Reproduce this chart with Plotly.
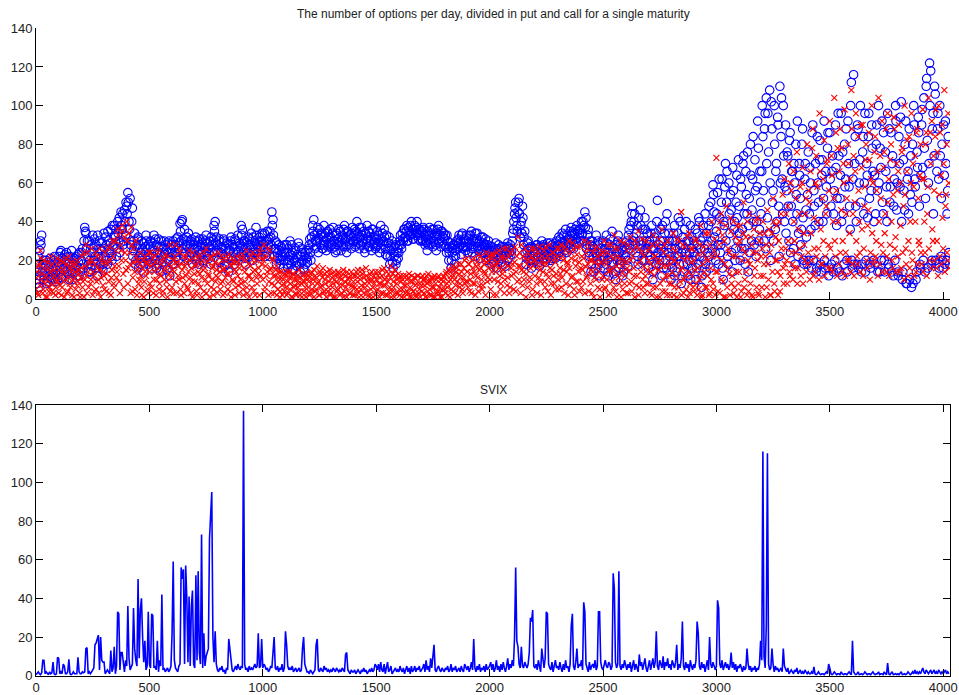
import plotly.graph_objects as go

# ---------------- data ----------------
# Main samples lie on days 0,5,10,...; the "mid" samples on days 2,7,12,...
STEP = 5
MID_OFFSET = 2

calls_a = [  # days 0-995
    15,8,22,12,30,33,18,10,14,20,9,16,12,18,11,15,20,13,17,10,
    22,14,25,18,12,20,16,24,13,19,22,15,10,18,21,14,17,23,12,16,
    20,26,16,37,34,22,18,30,14,24,33,20,16,28,12,22,30,18,25,15,
    34,22,28,18,30,24,36,20,28,38,32,22,40,30,24,45,36,28,46,33,
    48,55,40,52,30,47,25,34,20,28,32,22,18,30,26,14,24,33,20,28,
    22,30,16,26,33,20,28,18,31,24,14,27,22,30,17,25,29,20,12,26,
    24,30,18,28,22,32,26,39,30,41,22,36,28,32,20,26,30,24,18,28,
    26,32,22,30,18,28,24,31,20,27,33,22,26,30,18,28,24,38,40,32,
    28,20,31,24,16,26,30,22,18,28,14,25,32,20,27,18,30,24,33,22,
    28,38,36,24,30,18,26,32,22,28,34,20,26,30,37,24,28,32,22,30,
]
calls_b = [  # days 1000-1995
    33,26,30,24,35,28,22,32,45,41,26,30,18,24,28,20,22,26,16,24,
    20,28,16,22,30,18,24,15,20,26,17,22,27,14,19,24,16,22,18,25,
    22,28,24,32,38,41,26,30,34,24,36,28,33,26,38,30,25,35,28,36,
    32,26,37,30,24,34,28,36,30,25,33,27,38,31,24,35,29,33,26,37,
    30,36,28,40,34,26,32,37,29,35,24,31,38,27,34,30,25,36,29,33,
    27,35,30,24,38,31,28,36,26,33,22,29,18,25,30,16,22,28,20,26,
    24,30,28,34,30,36,32,38,30,35,33,40,36,31,38,34,40,36,33,30,
    35,30,36,28,33,25,31,37,29,34,27,36,31,25,33,38,30,27,35,32,
    28,33,24,30,20,27,16,24,28,18,22,30,26,33,28,23,34,27,31,25,
    30,24,33,28,35,26,31,22,29,34,25,30,21,27,32,24,28,20,26,30,
]
calls_c = [  # days 2000-2995
    22,27,18,25,20,26,16,23,28,21,19,25,22,27,17,24,29,21,26,23,
    30,36,44,50,38,45,52,32,40,48,28,35,18,25,30,20,27,16,24,22,
    26,20,28,22,17,25,30,21,27,19,24,29,22,26,20,28,23,27,21,30,
    25,32,28,22,34,27,30,36,24,31,28,35,37,30,26,34,29,38,32,36,
    30,40,34,38,45,42,28,36,22,30,18,27,14,24,33,20,28,12,26,22,
    30,16,24,33,20,12,28,22,35,18,26,10,24,30,16,28,20,25,14,27,
    22,30,17,36,26,40,48,32,44,24,38,18,30,46,28,36,20,42,26,34,
    16,30,22,38,10,26,34,18,51,28,20,36,12,30,24,40,16,28,34,22,
    10,30,20,38,26,14,34,22,40,8,28,18,36,24,30,12,20,38,26,16,
    30,22,10,34,18,40,26,6,32,20,44,14,28,38,22,50,30,59,45,24,
]
calls_d = [  # days 3000-4025
    35,55,18,42,28,62,10,38,70,50,22,60,34,46,14,56,40,26,64,30,
    48,20,58,36,74,26,66,44,14,52,80,30,62,40,72,22,58,78,36,50,
    66,84,30,96,104,42,76,108,20,88,56,100,36,70,94,48,110,84,62,100,
    40,90,56,74,30,86,48,66,26,60,80,44,22,70,52,36,88,20,62,46,
    18,76,44,60,16,90,56,38,14,84,50,72,18,64,40,92,16,58,78,12,
    86,48,66,14,56,90,38,16,74,52,96,12,44,80,62,20,92,58,36,112,
    16,116,70,48,18,88,60,100,14,76,44,96,20,64,84,52,16,90,66,40,
    18,80,56,100,14,68,92,44,20,76,58,96,16,50,86,70,12,62,100,46,
    14,84,58,102,10,72,46,92,8,66,88,54,6,80,100,62,10,76,94,48,
    16,90,68,104,14,110,82,60,122,118,20,96,74,106,18,88,62,100,22,80,
    16,64,92,20,56,24,
]

calls_mid_a = [  # days 2-997
    10,18,6,25,28,14,20,12,17,8,19,14,21,10,16,13,22,9,15,19,
    17,24,11,21,15,23,19,14,22,10,17,25,13,20,16,22,12,19,24,14,
    24,18,30,35,26,30,14,20,28,17,26,31,22,19,33,16,26,21,29,18,
    26,32,20,35,25,29,22,38,27,33,36,26,34,42,29,38,44,30,40,50,
    44,50,36,28,40,22,30,18,27,31,16,26,24,21,29,19,27,30,22,18,
    27,19,29,22,25,31,16,24,27,20,30,19,26,23,28,15,24,30,22,28,
    18,27,24,31,26,20,29,35,40,26,31,24,30,27,34,22,28,31,26,22,
    30,20,27,25,31,23,29,19,26,30,24,29,21,27,32,24,30,35,29,25,
    24,30,19,27,23,31,17,26,29,21,25,30,22,28,24,31,20,27,25,29,
    22,33,27,30,21,29,24,28,31,23,27,32,24,29,33,27,22,30,26,34,
]
calls_mid_b = [  # days 1002-1997
    28,34,22,30,26,31,35,28,38,33,22,26,29,21,25,18,27,22,20,28,
    24,18,26,20,23,28,15,21,25,19,23,29,18,22,26,20,15,24,21,19,
    26,31,20,29,35,33,30,27,37,31,29,34,26,32,28,34,31,27,32,29,
    28,34,30,27,33,25,31,29,35,28,31,36,30,27,35,32,28,31,34,30,
    33,27,35,31,29,37,28,33,31,26,34,29,32,35,27,31,36,28,32,26,
    31,28,33,29,26,34,30,32,23,29,26,32,22,27,19,24,27,18,24,21,
    28,33,26,31,36,32,35,30,37,33,38,34,31,36,33,37,34,31,36,34,
    31,37,33,30,29,35,28,33,31,36,30,33,28,34,36,29,33,35,29,34,
    31,27,33,26,24,29,20,26,22,28,25,29,31,27,30,33,26,29,27,33,
    27,31,29,33,24,30,27,34,31,27,29,26,32,24,29,27,31,25,28,24,
]
calls_mid_c = [  # days 2002-2997
    25,21,27,19,24,29,21,26,20,24,27,18,25,23,26,20,27,24,28,25,
    34,40,47,42,35,50,44,38,34,42,32,24,21,29,26,23,20,27,19,25,
    23,28,24,19,27,22,25,28,23,26,21,27,25,29,24,21,27,25,29,24,
    28,24,31,27,29,33,25,28,33,29,31,26,34,33,28,36,31,35,29,34,
    36,33,40,30,37,26,33,24,28,14,30,22,26,16,22,30,18,24,20,29,
    22,26,18,29,14,24,31,19,27,13,22,28,20,33,24,18,26,12,23,29,
    26,20,33,28,38,44,30,40,28,34,22,42,26,38,20,30,25,36,30,24,
    28,20,34,26,14,32,22,40,24,18,30,26,38,16,34,20,44,24,30,18,
    26,16,34,12,30,22,42,18,28,24,32,14,26,40,18,30,24,10,32,20,
    24,36,16,28,42,22,30,12,38,26,18,34,24,48,16,40,26,54,32,20,
]
calls_mid_d = [  # days 3002-4027
    44,28,62,24,50,16,40,58,30,66,18,44,54,24,68,36,20,50,42,72,
    34,62,26,70,44,18,54,76,38,24,64,46,84,28,56,40,92,30,66,44,
    100,56,88,26,70,96,34,60,102,50,30,80,66,40,90,22,60,104,44,74,
    58,34,76,48,82,24,66,40,70,18,54,92,34,64,28,80,42,18,70,32,
    54,20,68,36,86,20,48,70,16,60,40,82,14,72,52,20,66,44,86,16,
    62,18,74,44,20,68,52,96,14,64,40,76,18,58,88,14,70,48,100,20,
    62,18,84,40,90,16,72,50,18,84,60,14,70,42,96,18,56,78,20,64,
    44,90,14,60,78,20,50,86,14,66,40,18,88,58,14,74,48,20,92,60,
    12,70,94,40,14,56,80,8,62,44,10,74,50,8,90,58,14,68,86,18,
    64,98,20,78,52,114,16,70,100,18,88,44,110,20,66,96,16,74,52,20,
    90,18,70,44,84,18,
]

puts_a = [  # days 0-995
    5,14,2,18,25,10,3,20,8,12,1,16,6,22,4,11,15,2,9,18,
    3,12,20,6,15,1,10,18,4,22,8,14,2,17,11,5,20,9,13,1,
    16,6,24,10,28,3,14,20,8,26,2,12,18,5,22,10,15,1,19,7,
    12,24,4,18,9,27,2,15,22,6,30,11,36,17,3,25,38,13,32,20,
    40,8,34,18,37,4,26,14,30,2,20,10,24,6,16,1,22,12,18,3,
    14,24,6,18,10,22,2,16,26,8,12,20,4,15,23,9,1,18,28,11,
    6,20,14,28,3,17,10,24,2,15,22,8,12,19,5,25,11,16,1,21,
    9,18,2,14,23,6,11,20,4,16,26,8,13,1,22,10,17,5,19,12,
    3,24,14,8,20,2,16,11,22,5,13,18,1,21,9,15,6,19,12,3,
    18,8,23,2,14,20,6,12,1,17,10,24,4,15,20,8,13,2,26,18,
]
puts_b = [  # days 1000-1995
    10,28,6,22,14,2,25,16,8,20,3,12,17,5,11,1,14,7,10,4,
    12,2,9,14,5,11,1,13,7,3,10,6,15,2,8,12,4,9,1,13,
    6,11,3,14,8,1,12,5,17,9,2,13,7,16,4,10,1,12,6,15,
    3,11,8,14,1,9,5,13,2,10,7,15,4,12,1,8,11,3,14,6,
    9,2,12,5,15,1,10,7,13,3,8,16,4,11,1,9,14,6,12,2,
    10,5,14,1,8,12,3,16,7,11,2,13,6,17,4,9,1,12,8,3,
    11,2,9,5,12,1,7,10,3,13,6,1,9,4,11,2,8,12,5,1,
    7,12,3,10,1,8,13,5,9,2,11,6,1,10,4,12,3,8,1,9,
    11,3,14,6,9,1,12,15,4,10,7,16,2,13,8,18,5,11,20,9,
    14,6,18,10,3,16,21,8,12,19,4,15,22,10,7,18,13,24,9,16,
]
puts_c = [  # days 2000-2995
    20,5,14,23,10,17,2,19,25,12,8,21,15,3,18,26,11,22,6,16,
    25,13,19,4,22,32,10,17,28,7,14,21,1,18,24,9,16,26,5,20,
    12,23,3,17,27,9,20,14,25,6,18,22,11,28,2,15,24,8,19,13,
    22,5,16,28,11,20,3,25,14,18,30,7,21,12,26,2,17,23,9,19,
    27,6,15,21,3,24,12,18,29,8,20,14,1,26,10,22,17,5,19,25,
    12,30,6,18,24,2,15,28,9,21,33,4,17,26,11,20,1,14,29,8,
    19,25,3,14,32,9,22,16,1,27,12,35,6,20,24,10,17,3,30,15,
    8,26,18,2,33,12,22,6,28,15,1,20,36,10,24,4,17,30,12,2,
    21,14,34,6,25,1,18,30,9,45,16,3,27,12,22,1,34,8,19,26,
    4,15,31,2,23,10,38,1,18,27,6,21,12,34,3,16,40,8,25,2,
]
puts_d = [  # days 3000-4025
    73,14,36,3,44,20,9,30,1,48,16,24,2,35,12,40,6,22,1,28,
    14,38,4,26,50,10,32,2,20,44,8,28,1,36,16,24,42,3,30,12,
    6,40,18,1,28,46,10,24,2,34,52,8,20,38,14,30,4,44,22,16,
    62,26,20,48,70,12,56,18,66,30,24,76,16,44,58,22,68,34,20,52,
    80,24,50,66,20,88,42,14,74,58,26,96,36,18,62,82,22,48,72,28,
    92,16,64,40,104,22,56,78,18,88,46,14,70,98,24,52,80,20,62,108,
    18,74,50,96,22,84,40,14,68,90,26,58,80,16,46,72,24,100,60,20,
    84,30,66,104,18,52,92,24,76,44,14,96,62,28,80,20,54,88,32,70,
    22,90,60,16,78,48,100,26,66,12,84,40,96,20,58,74,14,88,52,28,
    80,18,98,62,24,86,44,104,20,70,92,30,56,84,16,76,100,22,64,90,
    26,108,48,80,20,60,
]

puts_mid_a = [  # days 2-997
    11,3,17,7,21,13,5,16,1,10,19,4,14,8,18,3,12,6,21,9,
    15,7,2,19,9,13,21,3,11,16,6,19,10,1,14,18,7,15,3,11,
    22,9,1,17,12,24,6,18,10,20,14,4,24,9,16,3,26,11,21,14,
    5,19,13,26,3,20,11,30,8,17,25,14,33,9,28,20,35,6,24,15,
    30,16,24,3,28,11,19,5,22,15,8,18,12,2,20,9,14,19,5,24,
    8,17,21,3,14,19,10,24,5,13,18,2,21,10,16,6,22,13,4,17,
    15,3,22,9,19,12,26,5,18,11,3,17,22,6,14,20,3,9,24,13,
    17,4,21,8,13,18,1,15,24,10,3,19,12,21,6,16,2,23,9,15,
    11,18,5,22,9,15,3,20,13,8,23,4,17,10,19,2,14,22,7,16,
    10,21,5,16,9,25,3,18,12,22,6,14,19,2,11,22,16,24,12,21,
]
puts_mid_b = [  # days 1002-1997
    20,4,17,12,26,9,15,3,21,12,7,15,2,9,14,4,11,2,8,13,
    6,14,3,11,8,1,13,6,10,2,12,8,4,11,1,9,13,6,11,3,
    9,2,13,5,10,15,4,11,8,2,14,6,11,3,13,8,14,4,9,2,
    13,6,1,10,12,4,14,7,11,3,13,1,9,6,14,10,3,12,7,2,
    12,6,14,9,3,12,5,15,1,11,6,12,9,2,13,5,10,1,8,14,
    4,12,8,11,3,15,7,10,2,14,9,4,11,1,13,6,15,3,10,13,
    5,12,1,10,7,3,12,4,11,1,9,12,4,11,7,1,12,3,8,11,
    4,10,7,1,12,4,9,2,11,6,1,12,8,3,11,6,1,10,5,12,
    5,13,8,2,15,10,5,17,12,3,14,9,18,6,11,14,3,16,8,21,
    9,18,4,13,20,8,14,2,17,11,23,7,16,5,20,14,2,19,11,22,
]
puts_mid_c = [  # days 2002-2997
    10,23,17,2,20,14,24,9,16,5,22,13,26,10,21,7,17,3,24,12,
    18,5,27,14,9,17,24,3,15,22,10,26,13,6,20,11,22,2,17,26,
    20,8,24,11,15,2,22,18,9,27,13,4,20,16,8,24,12,21,5,26,
    10,26,13,6,22,15,27,8,19,2,16,24,11,29,5,20,9,27,14,4,
    16,22,9,30,17,11,26,4,20,15,3,24,11,19,27,6,14,1,23,10,
    24,5,20,10,28,14,3,22,16,6,26,13,1,22,8,30,17,5,20,12,
    3,16,28,8,20,4,25,12,30,7,18,2,26,14,31,6,22,12,8,25,
    20,3,14,28,6,22,16,1,19,31,8,26,4,17,28,12,2,22,8,18,
    8,26,2,20,12,31,6,22,15,2,28,10,20,5,32,14,3,26,12,6,
    20,30,8,16,5,28,12,2,24,14,34,6,20,2,28,10,22,5,31,14,
]
puts_mid_d = [  # days 3002-4027
    22,4,28,40,10,33,1,18,38,6,26,13,42,8,22,3,32,14,38,8,
    30,1,20,34,6,24,14,40,4,18,32,2,24,12,40,6,20,2,34,22,
    26,12,34,22,6,18,36,2,28,14,40,4,32,20,2,40,12,26,54,8,
    18,44,8,30,14,60,24,10,40,16,52,8,36,26,12,60,8,28,44,14,
    18,56,10,34,78,12,26,60,22,40,10,66,18,52,30,12,44,70,16,56,
    26,74,14,52,30,86,12,40,66,24,78,30,60,12,44,20,70,34,14,88,
    44,12,66,30,18,56,24,90,36,12,48,72,20,38,86,10,62,34,18,76,
    22,56,12,40,74,28,14,68,34,88,22,50,12,72,40,16,94,26,14,56,
    66,14,38,76,24,10,54,18,82,30,16,60,24,70,12,40,86,18,30,64,
    24,62,14,40,80,12,58,26,86,16,36,74,20,98,30,12,54,86,18,42,
    70,14,54,24,96,16,
]

svix_a = [  # days 0-995
    0.5,1,2,1,0.5,1.5,8,8,1,2,1,0.5,2,1,1.5,7,1,0.5,1,9.5,
    9,1,2,1,6,5,1,1,2,8.5,1,0.5,1,2,1,1,1,9.5,2,1,
    1,2,1.5,2,14,14.5,1,2,1,2,3,4,16,17,19,21,3,20,8,7,
    7,1,2,3,2,1,13,2,4,15,1,5,33,32,3,12,12,5,2,8,
    5,36,9,3,5,6,35,14,8,5,50,9,34,40,20,7,18,3,5,33,
    6,4,32,31,4,5,3,18,2,8,5,42,3,4,2,3,4,2,3,5,
    22,59,8,4,3,2,5,6,56,50,55,6,57,40,7,41,5,36,44,6,
    4,52,8,54,12,6,73,4,22,5,10,12,14,71,81,95,20,7,23,6,
    3,2,4,3,5,2,3,1,4,3,19,14,6,3,2,4,5,3,6,4,
    3,5,4,137,6,3,4,2,5,3,4,3,5,6,4,5,22,4,5,19,
]
svix_b = [  # days 1000-1995
    4,6,5,3,4,2,3,5,4,15,20,4,3,5,2,4,3,6,2,4,
    23,16,5,3,4,3,5,2,3,4,2,3,4,2,3,14,20,6,3,2,
    2,1,3,2,1,2,3,16,19,3,2,4,3,2,5,3,4,2,3,2,
    3,2,4,3,2,4,3,2,3,2,4,3,2,11,12,3,2,1,3,2,
    2,3,1,2,3,2,1,3,2,4,2,3,1,2,3,2,4,2,3,6,
    5,3,6,2,7,3,2,6,1,4,7,2,3,5,1,2,3,4,2,3,
    2,5,3,2,4,1,3,5,2,4,1,5,2,3,5,2,4,3,5,2,
    3,4,6,2,8,3,5,2,9,4,10,16,3,2,4,5,3,2,4,3,
    2,4,3,5,2,3,6,2,4,3,5,2,3,4,2,5,3,2,6,4,
    3,5,2,4,7,3,19,4,2,5,3,6,2,4,3,5,2,6,3,4,
]
svix_c = [  # days 2000-2995
    5,7,3,6,2,4,8,3,5,2,6,3,7,4,2,5,9,3,6,4,
    8,5,20,56,18,15,6,4,15,5,4,7,5,4,6,12,30,28,34,5,
    4,6,3,8,5,2,14,7,4,9,33,32,6,4,3,7,2,5,8,4,
    5,3,7,4,2,6,3,8,4,5,2,6,26,32,5,3,7,14,4,6,
    5,8,3,38,33,6,4,2,7,3,5,6,4,8,3,5,33,33,7,4,
    3,6,8,5,4,7,6,3,5,53,45,7,4,6,54,5,3,6,4,8,
    5,3,6,4,7,2,5,8,3,6,4,2,11,5,7,3,6,9,4,2,
    5,8,3,6,9,4,7,23,5,3,8,6,4,10,3,7,5,9,4,6,
    3,8,5,4,7,16,3,6,4,9,28,5,3,7,4,6,2,8,5,3,
    6,4,8,28,22,5,3,7,4,6,2,5,8,3,20,6,4,7,5,3,
]
svix_d = [  # days 3000-4025
    5,39,35,6,4,8,3,5,7,4,6,3,5,12,4,7,3,6,2,5,
    4,6,3,2,5,3,4,14,6,3,5,2,4,3,5,2,4,3,6,18,
    8,116,10,4,26,115,6,3,4,14,6,2,5,3,4,2,3,4,2,14,
    5,3,2,4,1,2,3,2,1,3,2,4,1,2,3,1,2,1,3,2,
    1,2,1,1,2,1,4.5,1,0.5,1,2,1,0.5,1,1,0.5,1,2,1,6,
    4,1,0.5,1,2,1,0.5,1,1,0.5,2,1,0.5,1,1,0.5,1,2,1,0.5,
    18,2,1,0.5,1,2,0.5,1,1,0.5,1,2,1,0.5,1,1,0.5,1,2,1,
    0.5,1,1,2,0.5,1,1,0.5,2,1,0.5,6.5,1,0.5,1,2,0.5,1,1,0.5,
    1,0.5,1,2,0.5,1,1,0.5,1,2,1,0.5,1,2,1,3,1,2,1,2,
    1,3,4,2,1,3,2,1,2,3,1,2,3,1,2,1,3,2,1,2,
    1,2,3,1,2,1,
]

x_ticks = [0, 500, 1000, 1500, 2000, 2500, 3000, 3500, 4000]
y_ticks = [0, 20, 40, 60, 80, 100, 120, 140]
title_top = "The number of options per day, divided in put and call for a single maturity"
title_bottom = "SVIX"

calls = calls_a + calls_b + calls_c + calls_d
calls_mid = calls_mid_a + calls_mid_b + calls_mid_c + calls_mid_d
puts = puts_a + puts_b + puts_c + puts_d
puts_mid = puts_mid_a + puts_mid_b + puts_mid_c + puts_mid_d
svix = svix_a + svix_b + svix_c + svix_d

def days(values, offset=0):
    return [i * STEP + offset for i in range(len(values))]

# interleave main and mid samples so each series is one ordered trace
def merge(main, mid):
    xs, ys = [], []
    for i in range(max(len(main), len(mid))):
        if i < len(main):
            xs.append(i * STEP); ys.append(main[i])
        if i < len(mid):
            xs.append(i * STEP + MID_OFFSET); ys.append(mid[i])
    return xs, ys

calls_x, calls_y = merge(calls, calls_mid)
puts_x, puts_y = merge(puts, puts_mid)

# ---------------- figure ----------------
W, H = 959, 695
FONT = "Liberation Sans, Arial, Helvetica, sans-serif"

fig = go.Figure()
fig.add_trace(go.Scatter(
    x=calls_x, y=calls_y, mode="markers", xaxis="x", yaxis="y",
    marker=dict(symbol="circle-open", size=8.5, color="#0000ff",
                line=dict(width=1.1, color="#0000ff")),
    showlegend=False, hoverinfo="skip"))
fig.add_trace(go.Scatter(
    x=puts_x, y=puts_y, mode="markers", xaxis="x", yaxis="y",
    marker=dict(symbol="x-thin-open", size=6, color="#ff0000",
                line=dict(width=1.1, color="#ff0000")),
    showlegend=False, hoverinfo="skip"))
fig.add_trace(go.Scatter(
    x=days(svix), y=svix, mode="lines", xaxis="x2", yaxis="y2",
    line=dict(color="#0000ff", width=1.6),
    showlegend=False, hoverinfo="skip"))

def px_x(p):
    return p / W

def px_y(p):
    return 1 - p / H

axis_common = dict(
    showgrid=False, zeroline=False, showline=True, linecolor="black",
    linewidth=1, ticks="inside", ticklen=7, tickcolor="black", tickwidth=1,
    tickfont=dict(family=FONT, size=13, color="#222222"), automargin=False,
)

fig.update_layout(
    width=W, height=H, margin=dict(l=0, r=0, t=0, b=0),
    paper_bgcolor="white", plot_bgcolor="white",
    xaxis=dict(axis_common, domain=[px_x(36), px_x(950)], range=[0, 4030],
               tickvals=x_ticks, anchor="y"),
    yaxis=dict(axis_common, domain=[px_y(299), px_y(28.3)], range=[0, 140],
               tickvals=y_ticks, anchor="x"),
    xaxis2=dict(axis_common, domain=[px_x(36), px_x(950)], range=[0, 4030],
                tickvals=x_ticks, anchor="y2", mirror="ticks"),
    yaxis2=dict(axis_common, domain=[px_y(675.7), px_y(405)], range=[0, 140],
                tickvals=y_ticks, anchor="x2", mirror="ticks"),
    annotations=[
        dict(text=title_top, x=px_x(493), y=px_y(14), xref="paper", yref="paper",
             xanchor="center", yanchor="middle", showarrow=False,
             font=dict(family=FONT, size=12, color="#222222")),
        dict(text=title_bottom, x=px_x(493), y=px_y(390), xref="paper", yref="paper",
             xanchor="center", yanchor="middle", showarrow=False,
             font=dict(family=FONT, size=12, color="#222222")),
    ],
)

fig.write_html("out.html")
